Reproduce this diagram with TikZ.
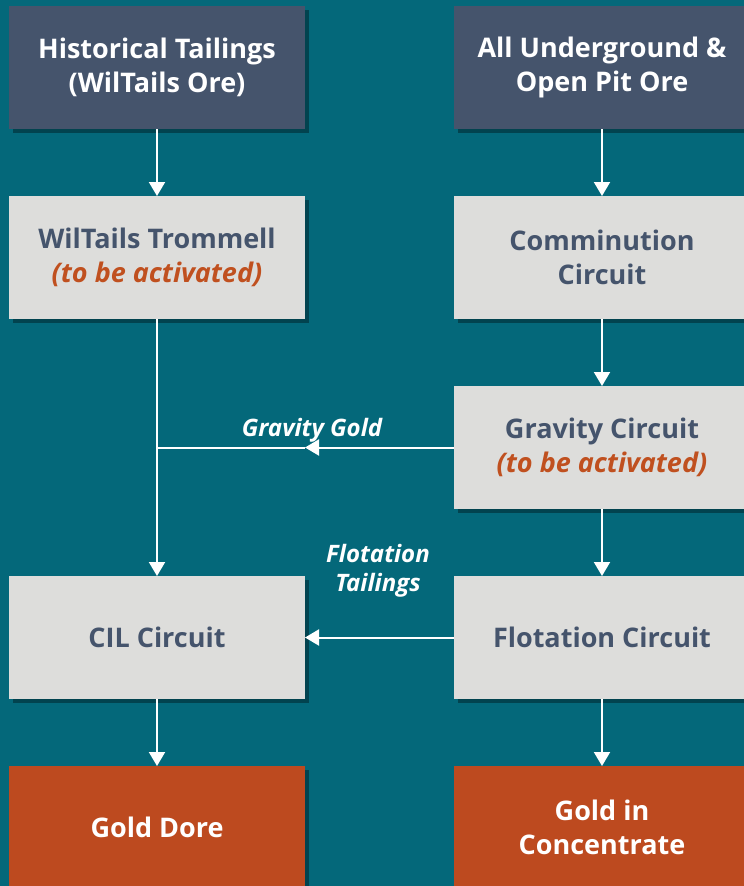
\documentclass[tikz,border=0pt]{standalone}
\usepackage{fontspec}
\setmainfont{Open Sans}
\usetikzlibrary{positioning,shadows,arrows.meta}

\definecolor{tealbg}{HTML}{04687A}
\definecolor{slatebox}{HTML}{45546C}
\definecolor{greybox}{HTML}{DDDDDB}
\definecolor{orangebox}{HTML}{BD4A1F}
\definecolor{slatetext}{HTML}{45546C}
\definecolor{orangetext}{HTML}{C0501F}

\begin{document}
\begin{tikzpicture}
    [x=1pt,y=1pt,%
      node distance=67pt and 149pt,%
      box/.style={rectangle,minimum width=296pt,minimum height=123pt,
        inner sep=0pt,outer sep=0pt,align=center,
        font=\fontsize{27}{34}\selectfont\bfseries,
        drop shadow={shadow xshift=4pt,shadow yshift=-4pt,opacity=0.35,fill=black}},%
      srcbox/.style={box,fill=slatebox,text=white},%
      stepbox/.style={box,fill=greybox,text=slatetext},%
      endbox/.style={box,fill=orangebox,text=white},%
      flow/.style={draw=white,line width=2pt,-{Triangle[width=16pt,length=14pt]}},%
      plainline/.style={draw=white,line width=2pt},%
      lbl/.style={text=white,align=center,
        font=\fontsize{24}{29}\selectfont\bfseries\itshape}]
    \fill[tealbg] (0,0) rectangle (744,-886);
    \clip (0,0) rectangle (744,-886);
    % top row: ore sources
    \node[srcbox,anchor=north west] (hist) at (9,-6) {Historical Tailings\\(WilTails Ore)};
    \node[srcbox,right=of hist] (allore) {All Underground \&\\Open Pit Ore};
    % process circuits
    \node[stepbox,below=of hist] (trom) {WilTails Trommell\\{\color{orangetext}\itshape(to be activated)}};
    \node[stepbox,below=of allore] (comm) {Comminution\\Circuit};
    \node[stepbox,below=of comm] (grav) {Gravity Circuit\\{\color{orangetext}\itshape(to be activated)}};
    \node[stepbox,below=of grav] (flot) {Flotation Circuit};
    \node[stepbox,left=of flot] (cil) {CIL Circuit};
    % products
    \node[endbox,below=of cil] (dore) {Gold Dore};
    \node[endbox,below=of flot] (conc) {Gold in\\Concentrate};

    \draw[flow] (hist) -- (trom);
    \draw[flow] (allore) -- (comm);
    \draw[flow] (comm) -- (grav);
    \draw[flow] (grav) -- (flot);
    \draw[flow] (trom) -- (cil);
    \draw[flow] (cil) -- (dore);
    \draw[flow] (flot) -- (conc);
    \coordinate (gg) at (trom.east |- grav.west);
    \draw[flow] (grav.west) -- (gg);
    \draw[plainline] (gg) -- (trom.south |- grav.west);
    \draw[flow] (flot) -- (cil);

    \node[lbl,anchor=base] (gglbl) at (312,-436) {Gravity Gold};
    \node[lbl,anchor=base] (ftlbl) at (378,-591) {Flotation\\Tailings};
\end{tikzpicture}
\end{document}
